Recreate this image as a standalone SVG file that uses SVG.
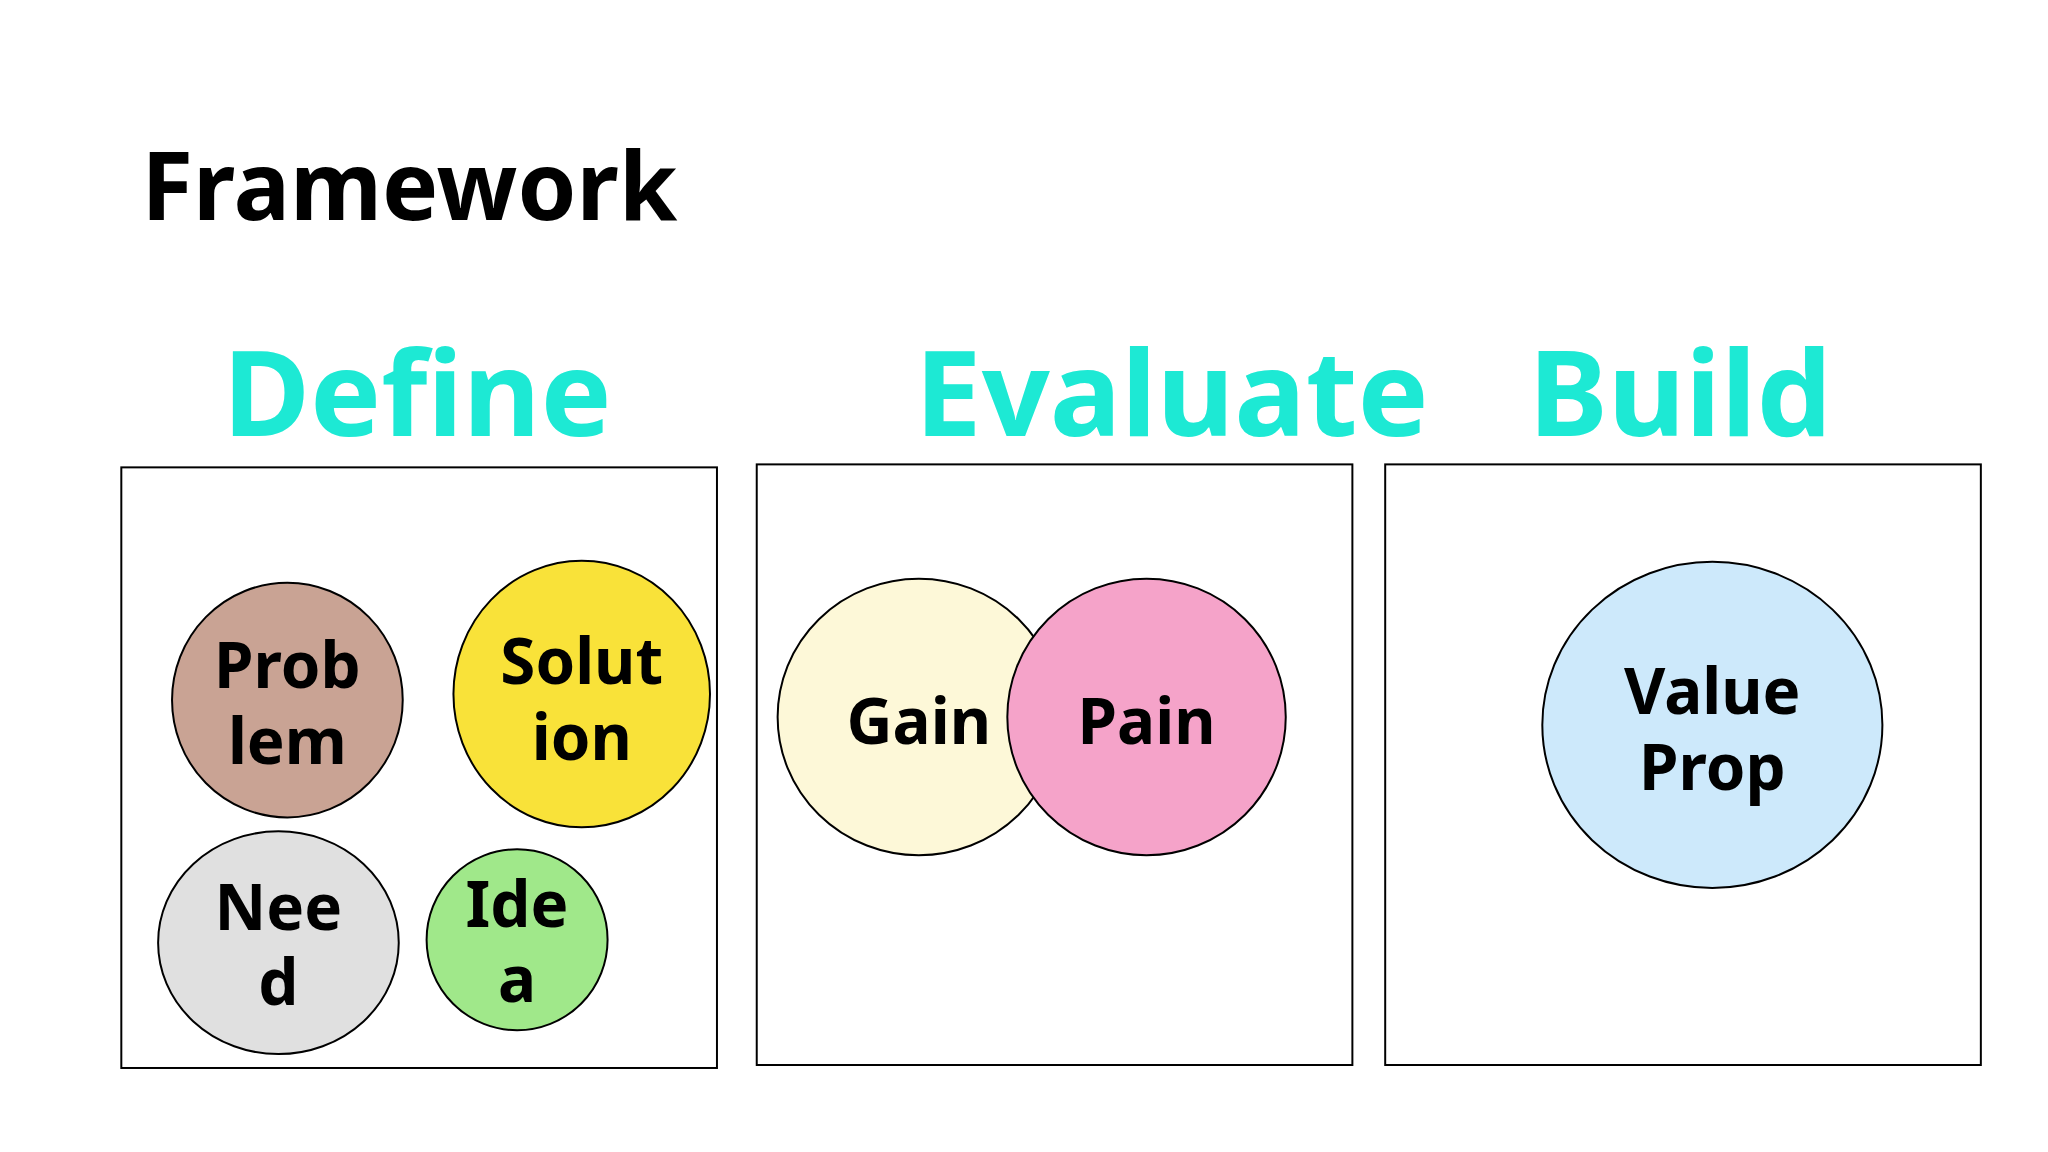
<svg xmlns="http://www.w3.org/2000/svg" width="2048" height="1152" viewBox="0 0 2048 1152">
<style>
text{font-family:"Noto Sans","Open Sans",sans-serif;font-weight:bold}
.h{font-size:120px;fill:#1de9d4}
.n{font-size:64px;fill:#000;text-anchor:middle}
.b{fill:#fff;stroke:#000;stroke-width:2}
.c{stroke:#000;stroke-width:2}
</style>
<rect width="2048" height="1152" fill="#fff"/>
<g transform="scale(0.9944)">
<text x="142" y="221" font-size="95" fill="#000">Framework</text>
<text class="h" x="224" y="438">Define</text>
<text class="h" x="920" y="438">Evaluate</text>
<text class="h" x="1537" y="438">Build</text>
<g id="box-define"><rect class="b" x="122" y="470" width="599" height="604"/></g>
<g id="box-evaluate"><rect class="b" x="761" y="467" width="599" height="604"/></g>
<g id="box-build"><rect class="b" x="1393" y="467" width="599" height="604"/></g>
<g id="problem"><ellipse class="c" cx="289" cy="704" rx="116" ry="118" fill="#c9a394"/><text class="n" x="289" y="692">Prob</text><text class="n" x="289" y="768">lem</text></g>
<g id="solution"><ellipse class="c" cx="585" cy="698" rx="129" ry="134" fill="#f9e239"/><text class="n" x="585" y="688">Solut</text><text class="n" x="585" y="764">ion</text></g>
<g id="need"><ellipse class="c" cx="280" cy="948" rx="121" ry="112" fill="#e0e0e0"/><text class="n" x="280" y="935">Nee</text><text class="n" x="280" y="1011">d</text></g>
<g id="idea"><ellipse class="c" cx="520" cy="945" rx="91" ry="91" fill="#a0e88a"/><text class="n" x="520" y="932">Ide</text><text class="n" x="520" y="1008">a</text></g>
<g id="gain"><ellipse class="c" cx="924" cy="721" rx="142" ry="139" fill="#fdf8d8"/><text class="n" x="924" y="748">Gain</text></g>
<g id="pain"><ellipse class="c" cx="1153" cy="721" rx="140" ry="139" fill="#f5a3c9"/><text class="n" x="1153" y="748">Pain</text></g>
<g id="valueprop"><ellipse class="c" cx="1722" cy="729" rx="171" ry="164" fill="#cde9fb"/><text class="n" x="1722" y="718">Value</text><text class="n" x="1722" y="794">Prop</text></g>
<g id="connectors"></g>
</g>
</svg>
